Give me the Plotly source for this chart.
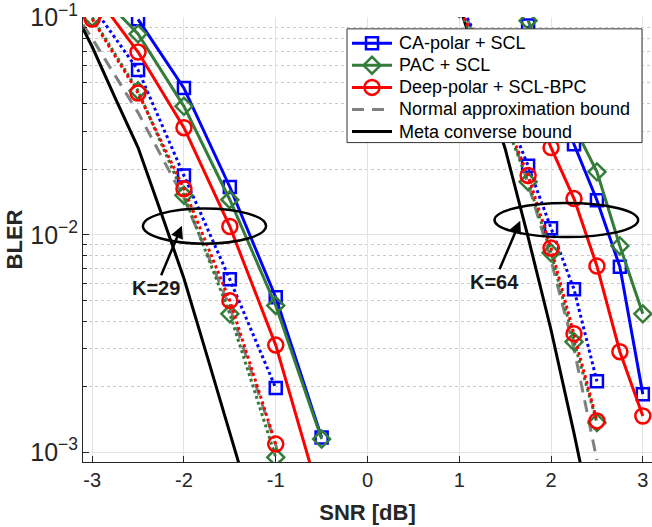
import plotly.graph_objects as go

# ---------------- data ----------------
# K = 29
snr29 = [-3.0, -2.5, -2.0, -1.5, -1.0, -0.5]
ca29 = [None, 0.098, 0.0473, 0.0166, 0.00516, 0.00117]
pac29 = [0.139, 0.084, 0.039, 0.0145, 0.00473, 0.00115]
deep29 = [0.133, 0.0693, 0.0311, 0.01092, 0.00311, 0.00058]
snr29_dot = [-3.0, -2.5, -2.0, -1.5, -1.0]
ca29_dot = [0.113, 0.0573, 0.01874, 0.00624, 0.001974]
pac29_dot = [0.1, 0.046, 0.0152, 0.00433, 0.000948]
deep29_dot = [0.0983, 0.0449, 0.0163, 0.00498, 0.00109]
snr29_na = [-3.1, -3.0, -2.5, -2.0, -1.5, -1.0, -0.9]
na29 = [0.0926, 0.080, 0.0365, 0.0147, 0.00465, 0.00108, 0.00075]
snr29_mc = [-3.1, -3.0, -2.75, -2.5, -2.25, -2.0, -1.75, -1.5, -1.35]
mc29 = [0.0888, 0.0733, 0.0427, 0.0252, 0.01267, 0.0063, 0.00279, 0.001236, 0.00075]

# K = 64
snr64 = [1.75, 2.0, 2.25, 2.5, 2.75, 3.0]
ca64 = [0.0917, 0.05, 0.0261, 0.01442, 0.00713, 0.00185]
pac64 = [0.0966, 0.055, 0.0316, 0.01948, 0.00889, 0.00433]
deep64 = [0.045, 0.0252, 0.01468, 0.00718, 0.0029, 0.001468]
snr64_dot = [1.0, 1.25, 1.5, 1.75, 2.0, 2.25, 2.5]
ca64_dot = [0.118, 0.072, 0.038, 0.0208, 0.01073, 0.005623, 0.002118]
pac64_dot = [0.11, 0.063, 0.033, 0.01754, 0.00826, 0.003219, 0.001368]
deep64_dot = [0.112, 0.065, 0.034, 0.01874, 0.0087, 0.003511, 0.001393]
snr64_na = [1.0, 1.25, 1.5, 1.75, 2.0, 2.25, 2.5]
na64 = [0.12, 0.0676, 0.0354, 0.0172, 0.00762, 0.00299, 0.00092]
snr64_mc = [1.0, 1.25, 1.5, 1.75, 2.0, 2.25, 2.35]
mc64 = [0.114, 0.0535, 0.0249, 0.00976, 0.00365, 0.001225, 0.00077]

legend_names = ["CA-polar + SCL", "PAC + SCL", "Deep-polar + SCL-BPC",
                "Normal approximation bound", "Meta converse bound"]
x_ticks = [-3, -2, -1, 0, 1, 2, 3]
x_ticktext = ["-3", "-2", "-1", "0", "1", "2", "3"]

# ---------------- styles ----------------
BLUE = "#0000FF"
GREEN = "#347C3A"
RED = "#FF0000"
GRAY = "#808080"
BLACK = "#000000"
FONT = "Liberation Sans, Arial, Helvetica, sans-serif"
LW = 3
NA_DASH = "12px,8px"

fig = go.Figure()


def add(x, y, color, symbol, size, dash="solid", xaxis="x", yaxis="y"):
    mode = "lines+markers" if symbol else "lines"
    marker = dict(symbol=symbol, size=size, color=color,
                  line=dict(color=color, width=2.5)) if symbol else None
    fig.add_trace(go.Scatter(
        x=x, y=y, mode=mode, showlegend=False, xaxis=xaxis, yaxis=yaxis,
        line=dict(color=color, width=LW, dash=dash),
        marker=marker, connectgaps=False, hoverinfo="skip"))


# bounds
add(snr29_na, na29, GRAY, None, 0, dash=NA_DASH)
add(snr64_na, na64, GRAY, None, 0, dash=NA_DASH)
add(snr29_mc, mc29, BLACK, None, 0)
add(snr64_mc, mc64, BLACK, None, 0)

# dotted variants
add(snr29_dot, ca29_dot, BLUE, "square-open", 12, dash="dot")
add(snr29_dot, pac29_dot, GREEN, "diamond-open", 13, dash="dot")
add(snr29_dot, deep29_dot, RED, "circle-open", 15, dash="dot")
add(snr64_dot, ca64_dot, BLUE, "square-open", 12, dash="dot")
add(snr64_dot, pac64_dot, GREEN, "diamond-open", 13, dash="dot")
add(snr64_dot, deep64_dot, RED, "circle-open", 15, dash="dot")

# solid
add(snr29, ca29, BLUE, "square-open", 12)
add(snr29, pac29, GREEN, "diamond-open", 13)
add(snr29, deep29, RED, "circle-open", 15)
add(snr64, ca64, BLUE, "square-open", 12)
add(snr64, pac64, GREEN, "diamond-open", 13)
add(snr64, deep64, RED, "circle-open", 15)

# ---------------- ellipses, arrows, labels ----------------
ell29 = dict(x0=-2.447, x1=-1.105, y0=10 ** -2.0405, y1=10 ** -1.8786)
ell64 = dict(x0=1.384, x1=2.949, y0=10 ** -2.0105, y1=10 ** -1.8536)
for e in (ell29, ell64):
    fig.add_shape(type="circle", xref="x", yref="y", layer="above",
                  line=dict(color=BLACK, width=2.5), **e)

# (arrow head x, head log10 y, text offset x px, text offset y px, text)
arrow_labels = [(-2.022, -1.958, -26, 62, "K=29"), (1.664, -1.9355, -26, 61, "K=64")]
for hx, hy, ax, ay, t in arrow_labels:
    fig.add_annotation(x=hx, y=hy, ax=ax, ay=ay, text="<b>%s</b>" % t, showarrow=True,
                       arrowhead=2, arrowsize=1, arrowwidth=2.5, arrowcolor=BLACK,
                       standoff=0, borderpad=1,
                       font=dict(family=FONT, size=20, color="#1a1a1a"))

# ---------------- legend (overlay axes in pixel units of the plot area) ----------------
PX_L, PX_R, PX_T, PX_B = 83, 652, 12, 462
box = dict(x0=347, x1=642, y0=24, y1=139)
row_y = [38.5, 60.8, 83.2, 105.5, 127.8]
sample_x0, sample_x1, text_x = 352, 392, 397

fig.add_trace(go.Scatter(
    x=[box["x0"], box["x1"], box["x1"], box["x0"], box["x0"]],
    y=[box["y0"], box["y0"], box["y1"], box["y1"], box["y0"]],
    mode="lines", fill="toself", fillcolor="white",
    line=dict(color="#333333", width=1), xaxis="x2", yaxis="y2",
    showlegend=False, hoverinfo="skip"))

leg_styles = [
    (BLUE, "square-open", 12, "solid"),
    (GREEN, "diamond-open", 13, "solid"),
    (RED, "circle-open", 15, "solid"),
    (GRAY, None, 0, NA_DASH),
    (BLACK, None, 0, "solid"),
]
for (color, sym, size, dash), ry, name in zip(leg_styles, row_y, legend_names):
    add([sample_x0, sample_x1], [ry, ry], color, None, 0, dash=dash, xaxis="x2", yaxis="y2")
    if sym:
        fig.add_trace(go.Scatter(
            x=[(sample_x0 + sample_x1) / 2], y=[ry], mode="markers", xaxis="x2", yaxis="y2",
            marker=dict(symbol=sym, size=size, color=color, line=dict(color=color, width=2.5)),
            showlegend=False, hoverinfo="skip"))
    fig.add_annotation(x=text_x, y=ry, xref="x2", yref="y2", text=name, showarrow=False,
                       xanchor="left", yanchor="middle",
                       font=dict(family=FONT, size=18, color="#000000"))

fig.update_layout(
    width=652, height=527,
    margin=dict(l=PX_L, r=652 - PX_R, t=PX_T, b=527 - PX_B),
    paper_bgcolor="white", plot_bgcolor="white",
    font=dict(family=FONT, size=20, color="#262626"),
    showlegend=False,
    xaxis=dict(range=[-3.1, 3.1], tickmode="array", tickvals=x_ticks, ticktext=x_ticktext,
               ticks="inside", ticklen=6, tickcolor="#262626",
               showline=True, linecolor="#262626", linewidth=1,
               showgrid=True, gridcolor="#E3E3E3", gridwidth=1, zeroline=False,
               tickfont=dict(size=20, color="#262626"),
               title=dict(text="<b>SNR [dB]</b>", font=dict(size=22, color="#262626"), standoff=14)),
    yaxis=dict(type="log", range=[-3.045, -0.998], dtick=1, exponentformat="power",
               showexponent="all", ticklabeloverflow="allow",
               ticks="inside", ticklen=6, tickcolor="#262626",
               showline=True, linecolor="#262626", linewidth=1,
               showgrid=True, gridcolor="#E3E3E3", gridwidth=1, zeroline=False,
               tickfont=dict(size=20, color="#262626"),
               minor=dict(ticks="inside", ticklen=4, tickcolor="#262626", dtick="D1",
                          showgrid=True, gridcolor="#C8C8C8", griddash="dot", gridwidth=1),
               title=dict(text="<b>BLER</b>", font=dict(size=22, color="#262626"), standoff=1)),
    xaxis2=dict(overlaying="x", range=[PX_L, PX_R], visible=False, fixedrange=True),
    yaxis2=dict(overlaying="y", range=[PX_B, PX_T], visible=False, fixedrange=True),
)

fig.write_html("out.html")
